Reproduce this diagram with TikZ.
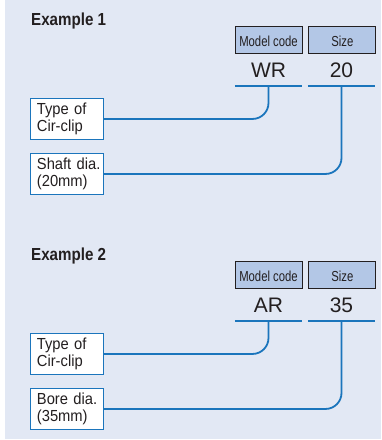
\documentclass[tikz,border=0pt]{standalone}
\usepackage{fontspec}
\setmainfont{Liberation Sans}
\newfontfamily\condfont[FakeStretch=0.87]{Liberation Sans}
\newfontfamily\boxfont[FakeStretch=0.92]{Liberation Sans}
\newfontfamily\headfont[FakeStretch=0.78]{Liberation Sans}
\usetikzlibrary{positioning}
\definecolor{bgblue}{RGB}{226,232,244}
\definecolor{hdrblue}{RGB}{179,199,230}
\definecolor{lineblue}{RGB}{27,117,188}
\definecolor{inkgray}{RGB}{35,31,32}

\begin{document}
\begin{tikzpicture}[
  x=1pt, y=-1pt,
  heading/.style={anchor=base west, inner sep=0pt, text=inkgray, font=\condfont\bfseries\fontsize{17.4}{20}\selectfont},
  headbox/.style={draw=inkgray, line width=0.9pt, fill=hdrblue, minimum width=67pt, minimum height=27pt, inner sep=0pt, text height=13pt, text depth=0pt, text=inkgray, font=\headfont\fontsize{14.5}{16}\selectfont},
  valtext/.style={anchor=south, minimum width=67pt, inner sep=0pt, text height=15pt, text depth=8pt, text=inkgray, font=\fontsize{21}{24}\selectfont},
  infobox/.style={draw=lineblue, line width=0.9pt, fill=white, anchor=north west, text width=60pt, inner xsep=6.5pt, inner ysep=2pt, minimum height=41pt, align=left, text=inkgray, font=\boxfont\fontsize{16}{17}\selectfont},
  uline/.style={draw=lineblue, line width=2pt},
  conn/.style={draw=lineblue, line width=1.8pt, rounded corners=16pt},
  ]

% Background
\useasboundingbox (0,0) rectangle (381,440);
\fill[bgblue] (5,0) rectangle (381,439);

% Example 1
\node[heading] (ex1) at (31,25) {Example 1};
\node[headbox] (mc1) at (268.5,39.5) {Model code};
\node[headbox, right=6pt of mc1] (sz1) {Size};
\node[valtext] (wr1) at (268.5,86) {WR};
\node[valtext] (v20) at (341.5,86) {20};
\node[infobox] (type1) at (30,98) {Type of\\Cir-clip};
\node[infobox] (shaft1) at (30,153) {Shaft~dia.\\(20mm)};

\draw[uline] (wr1.south west) -- (wr1.south east);
\draw[uline] (v20.south west) -- (v20.south east);
\draw[conn] (wr1.south) |- (type1.east);
\draw[conn] (v20.south) |- (shaft1.east);

% Example 2
\node[heading] (ex2) at (31,260) {Example 2};
\node[headbox] (mc2) at (268.5,274.5) {Model code};
\node[headbox, right=6pt of mc2] (sz2) {Size};
\node[valtext] (ar2) at (268.5,321) {AR};
\node[valtext] (v35) at (341.5,321) {35};
\node[infobox] (type2) at (30,333) {Type of\\Cir-clip};
\node[infobox] (bore2) at (30,388) {Bore~dia.\\(35mm)};

\draw[uline] (ar2.south west) -- (ar2.south east);
\draw[uline] (v35.south west) -- (v35.south east);
\draw[conn] (ar2.south) |- (type2.east);
\draw[conn] (v35.south) |- (bore2.east);

\end{tikzpicture}
\end{document}
